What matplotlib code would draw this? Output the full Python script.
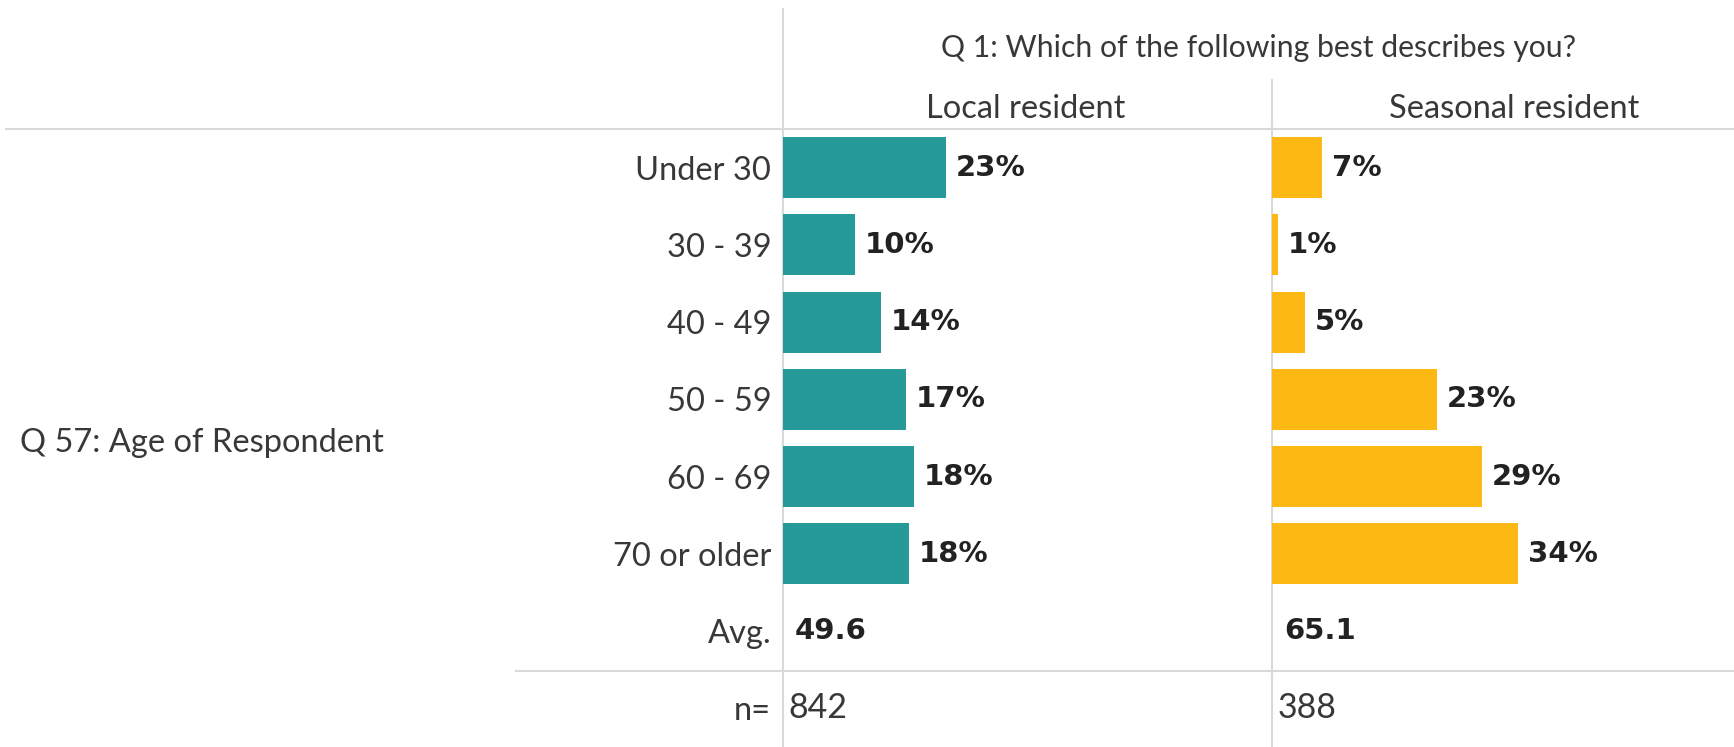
import matplotlib
matplotlib.use('Agg')
import matplotlib.pyplot as plt
from matplotlib.lines import Line2D

# survey shares (%) by age band
ages = ['Under 30', '30 - 39', '40 - 49', '50 - 59', '60 - 69', '70 or older']
local = [22.9, 10.1, 13.8, 17.2, 18.4, 17.7]
seasonal = [7.0, 0.9, 4.6, 23.2, 29.4, 34.5]
groups = ['Local resident', 'Seasonal resident']
avg_age = [49.6, 65.1]
n_resp = [842, 388]

title = 'Q 1: Which of the following best describes you?'
row_title = 'Q 57: Age of Respondent'

W, H = 1734, 747
px_per_pct = 7.13
grid = '#d9d9d9'
txt = '#383838'
colors = ['#269a98', '#fdb813']
regular = 'Lato'
bold = 'DejaVu Sans'
fs = 23.5

plt.rcParams['font.family'] = regular

fig = plt.figure(figsize=(W / 100, H / 100), dpi=100)
fx = lambda px: px / W
fy = lambda py: 1 - py / H

top = 129
cols = [(783, 1272), (1272, W)]
axes = []
for (x0, x1), vals, col, avg, n in zip(cols, [local, seasonal], colors, avg_age, n_resp):
	ax = fig.add_axes((fx(x0), 0, fx(x1 - x0), fy(top)))
	rows = list(range(len(vals)))
	ax.barh(rows, vals, height=0.79, color=col)
	for r, v in zip(rows, vals):
		ax.annotate(f'{v:.0f}%', (v, r), xytext=(7, 0), textcoords='offset points',
			va='center', ha='left', fontsize=21, fontweight='bold', family=bold, color='#222222')
	ax.annotate(f'{avg}', (0, len(vals)), xytext=(8.5, 0), textcoords='offset points',
		va='center', ha='left', fontsize=21, fontweight='bold', family=bold, color='#222222')
	ax.annotate(f'{n}', (0, len(vals) + 1), xytext=(4, 0), textcoords='offset points',
		va='center', ha='left', fontsize=24.5, color=txt)
	ax.set_xlim(0, (x1 - x0) / px_per_pct)
	ax.set_ylim(len(vals) + 1.5, -0.5)
	ax.set_xticks([])
	for s in ax.spines.values():
		s.set_visible(False)
	ax.patch.set_alpha(0)
	axes.append(ax)

ax = axes[0]
ax.set_yticks(range(len(ages) + 2))
ax.set_yticklabels(ages + ['Avg.', 'n='], fontsize=fs, color=txt)
ax.tick_params(axis='y', length=0, pad=8.5)
axes[1].set_yticks([])

# table rules
for x0, y0, x1, y1 in [(783, 9, 783, H), (1272, 80, 1272, H), (6, top, W, top), (516, 671, W, 671)]:
	fig.add_artist(Line2D([fx(x0), fx(x1)], [fy(y0), fy(y1)], color=grid, lw=1.5, zorder=0))

fig.text(fx(1259), fy(48), title, ha='center', va='center', fontsize=21.7, color=txt)
for xc, g in zip([1026, 1514], groups):
	fig.text(fx(xc), fy(109), g, ha='center', va='center', fontsize=fs, color=txt)
fig.text(fx(20), fy(443), row_title, ha='left', va='center', fontsize=fs, color=txt)

fig.savefig('out.png', dpi=100)
